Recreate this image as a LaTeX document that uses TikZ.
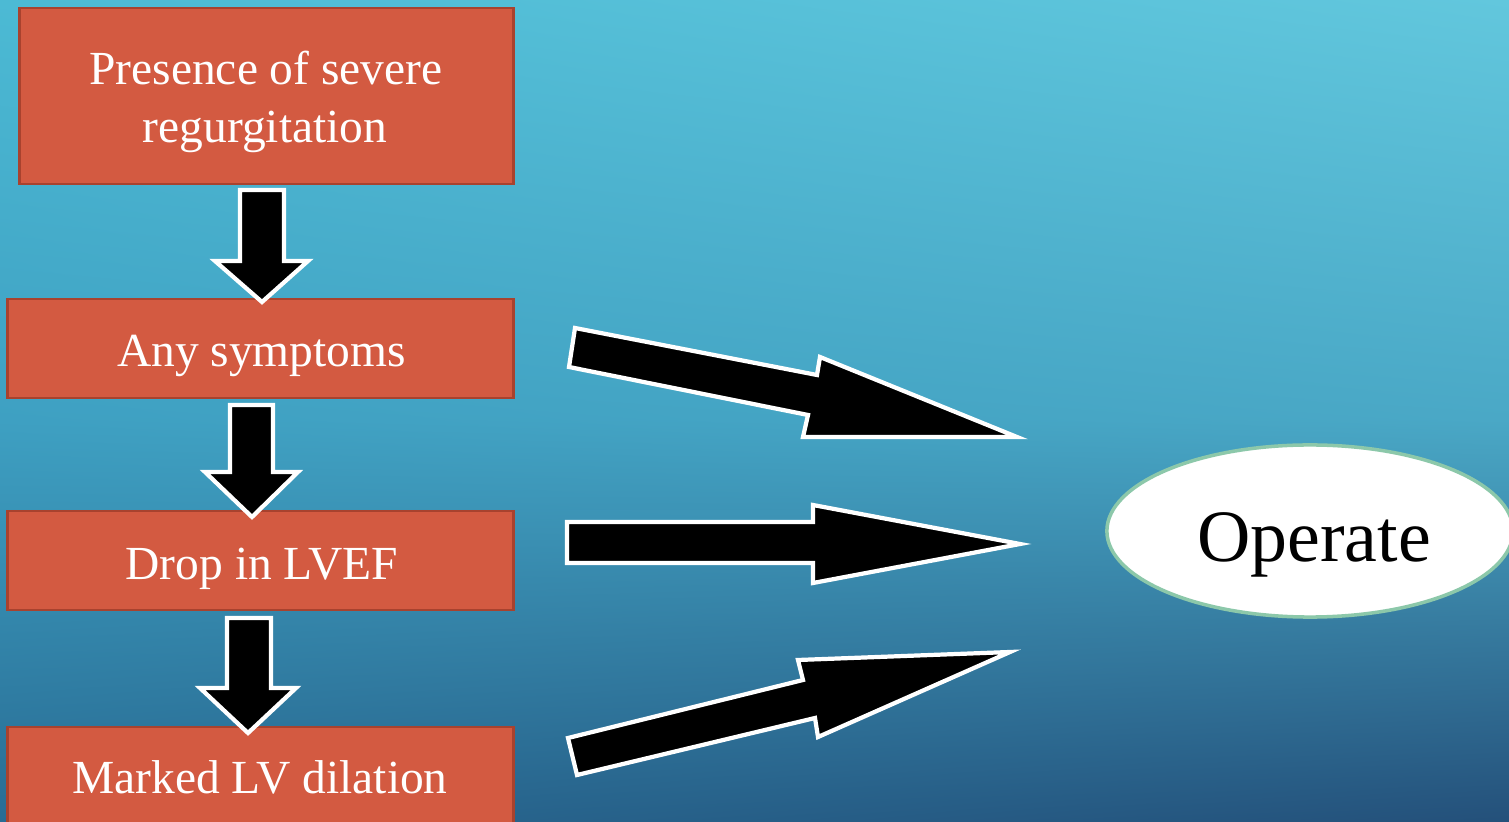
\documentclass[tikz,border=0pt]{standalone}
\usepackage{fontspec}
\setmainfont{Liberation Serif}
\usetikzlibrary{shapes.geometric,shadings}
\definecolor{bgUL}{RGB}{76,186,212}
\definecolor{bgUR}{RGB}{98,199,221}
\definecolor{bgML}{RGB}{62,160,194}
\definecolor{bgMR}{RGB}{74,168,198}
\definecolor{bgLL}{RGB}{40,108,148}
\definecolor{bgLR}{RGB}{36,80,122}
\definecolor{boxfill}{RGB}{211,90,65}
\definecolor{boxline}{RGB}{168,66,46}
\definecolor{ellline}{RGB}{140,200,170}
\tikzset{
  stepbox/.style={rectangle, draw=boxline, line width=0.8pt, fill=boxfill, inner sep=0pt},
  boxtext/.style={text=white, font=\fontsize{13.5}{16.5}\selectfont, inner sep=0pt, anchor=base},
  blockarrow/.style={fill=black, draw=white, line width=1.2pt, line join=miter},
  goal/.style={ellipse, draw=ellline, line width=1pt, fill=white, inner sep=0pt},
  goaltext/.style={font=\fontsize{21}{25}\selectfont, inner sep=0pt, anchor=base}
}
\begin{document}
\begin{tikzpicture}[x=0.01cm, y=-0.01cm]
\useasboundingbox (0,0) rectangle (1509,822);
\clip (0,0) rectangle (1509,822);
\shade[upper left=bgUL, upper right=bgUR, lower left=bgML, lower right=bgMR] (0,0) rectangle (1509,420);
\shade[upper left=bgML, upper right=bgMR, lower left=bgLL, lower right=bgLR] (0,419.5) rectangle (1509,822);

% boxes
\node[stepbox, minimum width=4.93cm, minimum height=1.76cm] (b1) at (266.5,96) {};
\node[stepbox, minimum width=5.05cm, minimum height=0.99cm] (b2) at (260.5,348.5) {};
\node[stepbox, minimum width=5.05cm, minimum height=0.99cm] (b3) at (260.5,560.5) {};
\node[stepbox, minimum width=5.05cm, minimum height=1.02cm] (b4) at (260.5,778) {};

\node[boxtext] (t1a) at (266,85) {Presence of severe};
\node[boxtext] (t1b) at (265,143) {regurgitation};
\node[boxtext] (t2) at (261.5,367) {Any symptoms};
\node[boxtext] (t3) at (262,580) {Drop in LVEF};
\node[boxtext] (t4) at (260,794) {Marked LV dilation};

% goal
\node[goal, minimum width=4.06cm, minimum height=1.72cm] (op) at (1310,531) {};
\node[goaltext] (opt) at (1314,562) {Operate};

% down block arrows
\draw[blockarrow] (240,190) -- (284,190) -- (284,261) -- (308,261) -- (262,302) -- (215,261) -- (240,261) -- cycle;
\draw[blockarrow] (230,405) -- (273,405) -- (273,472) -- (298,472) -- (252,517) -- (205,472) -- (230,472) -- cycle;
\draw[blockarrow] (227,618) -- (271,618) -- (271,688) -- (296,688) -- (248,733) -- (200,688) -- (227,688) -- cycle;

% right block arrows
\draw[blockarrow] (575,328) -- (817,375) -- (820,357) -- (1017,437) -- (803,437) -- (808,415) -- (569,367) -- cycle;
\draw[blockarrow] (567,522) -- (813,522) -- (813,505) -- (1020,544) -- (813,583) -- (813,563) -- (567,563) -- cycle;
\draw[blockarrow] (568,738) -- (803,680) -- (798,660) -- (1010,652) -- (818,737) -- (815,718) -- (577,775) -- cycle;
\end{tikzpicture}
\end{document}
